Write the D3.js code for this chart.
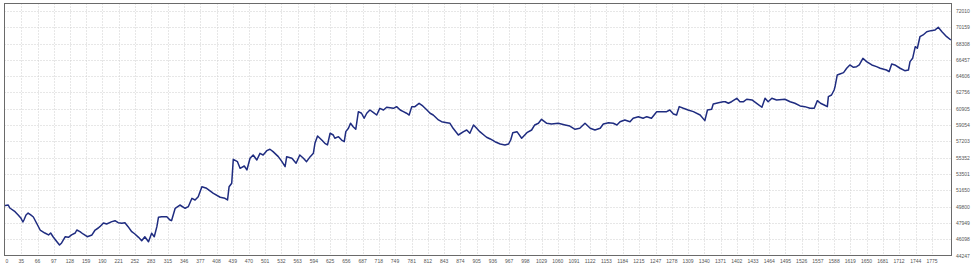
<!DOCTYPE html>
<html>
<head>
<meta charset="utf-8">
<script src="https://cdnjs.cloudflare.com/ajax/libs/d3/7.8.5/d3.min.js"></script>
<style>
    body { margin: 0; background: #fff; }
    svg { display: block; }
    .lbl { font-family: "Liberation Sans", Arial, sans-serif; font-size: 5px; fill: #555; }
</style>
</head>
<body>
<svg id="chart"></svg>
<script>
// trade number and balance
var trades = [0, 10, 13, 23, 29, 34, 38, 40, 44, 48, 53, 58, 64, 71, 80, 87, 91, 96, 103, 108,
    112, 119, 125, 131, 138, 141, 147, 153, 161, 170, 176, 182, 185, 192, 198, 208, 214, 220, 227, 233,
    239, 246, 252, 259, 265, 271, 278, 284, 289, 294, 297, 303, 313, 319, 322, 329, 338, 348, 354, 361,
    367, 373, 380, 389, 402, 415, 424, 429, 432, 437, 440, 448, 453, 461, 466, 472, 478, 485, 491, 497,
    504, 510, 516, 526, 533, 539, 542, 552, 560, 567, 574, 580, 587, 593, 596, 601, 609, 615, 620, 625,
    631, 634, 641, 647, 652, 655, 660, 664, 669, 674, 679, 685, 690, 695, 701, 708, 714, 720, 727, 733,
    746, 752, 759, 765, 771, 776, 781, 787, 795, 802, 810, 816, 822, 832, 838, 848, 854, 860, 870, 880,
    886, 892, 899, 905, 911, 921, 924, 931, 940, 950, 959, 966, 970, 974, 982, 991, 1001, 1010, 1016, 1023,
    1029, 1039, 1048, 1061, 1074, 1083, 1093, 1102, 1112, 1122, 1131, 1141, 1147, 1157, 1166, 1173, 1179, 1188, 1198, 1204,
    1214, 1223, 1230, 1239, 1249, 1259, 1268, 1274, 1281, 1287, 1292, 1300, 1309, 1319, 1332, 1341, 1346, 1354, 1357, 1367,
    1376, 1380, 1386, 1392, 1402, 1408, 1415, 1421, 1431, 1440, 1450, 1456, 1462, 1469, 1478, 1494, 1504, 1513, 1523, 1532,
    1542, 1550, 1556, 1562, 1569, 1575, 1577, 1583, 1588, 1590, 1594, 1599, 1606, 1612, 1618, 1625, 1631, 1636, 1643, 1650,
    1660, 1669, 1676, 1688, 1693, 1698, 1704, 1714, 1723, 1730, 1733, 1738, 1743, 1747, 1752, 1758, 1765, 1773, 1781, 1787,
    1794, 1803, 1811];

var balance = [49870, 49980, 49640, 49220, 48850, 48510, 48050, 48280, 48850, 49070, 48850, 48620, 47940, 47140, 46800, 46580, 46800, 46350, 45810, 45440,
    45670, 46380, 46310, 46580, 46800, 47140, 46950, 46690, 46380, 46580, 47140, 47370, 47520, 47940, 47830, 48090, 48200, 47970, 47900, 47970,
    47520, 46950, 46690, 46310, 45930, 46380, 45810, 46770, 46380, 47520, 48590, 48650, 48650, 48280, 48200, 49610, 49980, 49610, 49790, 50740,
    50550, 50930, 52060, 51880, 51310, 50860, 50740, 50550, 52060, 52450, 55170, 54900, 54150, 54410, 53960, 55290, 55660, 55090, 55850, 55660,
    56150, 56310, 56040, 55470, 54900, 54330, 55470, 55290, 54720, 55660, 55290, 54900, 55470, 55850, 56990, 57820, 57360, 56990, 56800, 58130,
    57930, 57560, 57740, 57360, 57170, 58310, 58690, 59260, 58870, 58580, 60580, 60400, 59830, 60400, 60770, 60460, 60200, 60960, 60770, 61080,
    60960, 61150, 60770, 60580, 60400, 60200, 61150, 61150, 61530, 61230, 60770, 60400, 60200, 59640, 59440, 59330, 59260, 58690, 57930, 58310,
    58500, 58130, 59070, 58690, 58310, 57820, 57670, 57480, 57170, 56910, 56800, 56910, 57360, 58190, 58310, 57560, 58190, 58500, 59070, 59260,
    59710, 59260, 59180, 59260, 59070, 58950, 58580, 58690, 59260, 58690, 58500, 58690, 59180, 59330, 59260, 59070, 59440, 59640, 59440, 59830,
    60010, 59830, 60010, 59830, 60580, 60580, 60580, 60770, 60320, 60200, 61150, 60960, 60770, 60580, 60200, 59560, 60770, 60850, 61450, 61600,
    61710, 61710, 61530, 61710, 62100, 61710, 61710, 61990, 61910, 61530, 61080, 62100, 61710, 62100, 61910, 61990, 61710, 61530, 61230, 61150,
    60960, 60960, 61830, 61530, 61340, 61150, 62280, 62470, 63040, 63500, 64750, 64860, 65010, 65510, 65880, 65620, 65690, 65880, 66640, 66260,
    65880, 65690, 65510, 65310, 65120, 65990, 65880, 65510, 65230, 65310, 66260, 66640, 67960, 67780, 69090, 69290, 69660, 69780, 69860, 70160,
    69660, 69090, 68720];

// axis labels
var xTicks = [0, 35, 66, 97, 128, 159, 190, 221, 252, 283, 315, 346, 377, 408, 439, 470, 501, 532, 563, 594,
    625, 656, 687, 718, 749, 781, 812, 843, 874, 905, 936, 967, 998, 1029, 1060, 1091, 1122, 1153, 1184, 1215,
    1247, 1278, 1309, 1340, 1371, 1402, 1433, 1464, 1495, 1526, 1557, 1588, 1619, 1650, 1681, 1712, 1744, 1775];

var yTicks = [44247, 46098, 47949, 49800, 51650, 53501, 55352, 57203, 59054, 60905,
    62756, 64606, 66457, 68308, 70159, 72010];

// layout
var screen = {width: 972, height: 270};
var frame = {left: 4.5, right: 951.5, top: 3.5, bottom: 255.5};

var svg = d3.select("#chart")
    .attr("width", screen.width)
    .attr("height", screen.height);

var xScale = d3.scaleLinear()
    .domain([0, 1775])
    .range([3, 932]);

var yScale = d3.scaleLinear()
    .domain([44247, 72010])
    .range([255.5, 11]);

// grid (dotted, light)
var grid = svg.append("g");

grid.selectAll(".vg")
    .data(xTicks.filter(function(d) { return d > 0; }))
    .enter()
    .append("line")
    .attr("x1", function(d) { return Math.round(xScale(d)) + 0.5; })
    .attr("x2", function(d) { return Math.round(xScale(d)) + 0.5; })
    .attr("y1", frame.top)
    .attr("y2", frame.bottom)
    .attr("stroke", "#cfcfcf")
    .attr("stroke-width", 1)
    .attr("stroke-dasharray", "1,2");

grid.selectAll(".hg")
    .data(yTicks.slice(1))
    .enter()
    .append("line")
    .attr("x1", frame.left)
    .attr("x2", frame.right)
    .attr("y1", function(d) { return Math.round(yScale(d)) + 0.5; })
    .attr("y2", function(d) { return Math.round(yScale(d)) + 0.5; })
    .attr("stroke", "#cfcfcf")
    .attr("stroke-width", 1)
    .attr("stroke-dasharray", "1,2");

// clip so the line stays inside the frame
svg.append("clipPath")
    .attr("id", "clip")
    .append("rect")
    .attr("x", frame.left)
    .attr("y", frame.top)
    .attr("width", frame.right - frame.left)
    .attr("height", frame.bottom - frame.top);

var points = trades.map(function(t, i) { return [t, balance[i]]; });

var line = d3.line()
    .x(function(d) { return xScale(d[0]); })
    .y(function(d) { return yScale(d[1]); });

svg.append("path")
    .datum(points)
    .attr("clip-path", "url(#clip)")
    .attr("d", line)
    .attr("fill", "none")
    .attr("stroke", "#1f2c80")
    .attr("stroke-width", 1.5)
    .attr("stroke-linejoin", "round");

// frame
svg.append("rect")
    .attr("x", frame.left)
    .attr("y", frame.top)
    .attr("width", frame.right - frame.left)
    .attr("height", frame.bottom - frame.top)
    .attr("fill", "none")
    .attr("stroke", "#6a6a6a")
    .attr("stroke-width", 1);

// x labels
svg.append("g")
    .selectAll("text")
    .data(xTicks)
    .enter()
    .append("text")
    .classed("lbl", true)
    .attr("x", function(d) { return Math.max(xScale(d), 7); })
    .attr("y", 263)
    .attr("text-anchor", "middle")
    .text(function(d) { return d; });

// y labels on the right
svg.append("g")
    .selectAll("text")
    .data(yTicks)
    .enter()
    .append("text")
    .classed("lbl", true)
    .attr("x", 956)
    .attr("y", function(d) { return yScale(d) + 2; })
    .text(function(d) { return d; });
</script>
</body>
</html>
